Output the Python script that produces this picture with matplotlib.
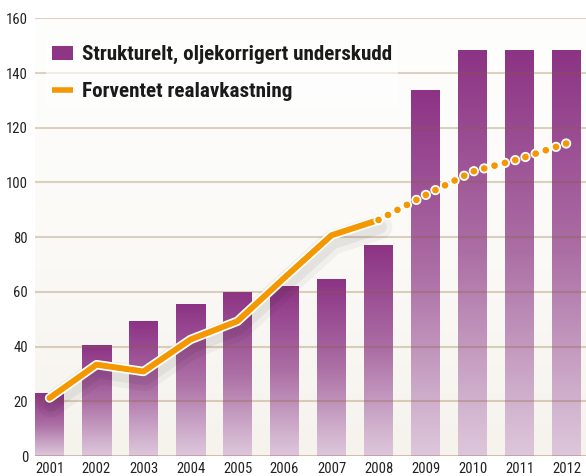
import numpy as np
import matplotlib
matplotlib.use('Agg')
import matplotlib.pyplot as plt
from matplotlib.colors import LinearSegmentedColormap
import matplotlib.patheffects as pe
from matplotlib.lines import Line2D
from matplotlib.patches import Patch

years = ['2001', '2002', '2003', '2004', '2005', '2006', '2007', '2008',
         '2009', '2010', '2011', '2012']
underskudd = [23, 40.5, 49, 55.3, 59.6, 61.8, 64.4, 77.1, 133.8, 148.3, 148.3, 148.3]
realavkastning = [21.2, 33.4, 30.9, 42.6, 49.3, 65.2, 80.7, 86.3, 95.4, 104.0, 108.6, 114.3]
n_actual = 8  # 2001-2008 solid, thereafter dotted (forecast)
yticks = [0, 20, 40, 60, 80, 100, 120, 140, 160]
legend_labels = ['Strukturelt, oljekorrigert underskudd', 'Forventet realavkastning']

FONT = ['Roboto Condensed', 'Liberation Sans Narrow', 'DejaVu Sans']
plt.rcParams['font.family'] = FONT
plt.rcParams['font.stretch'] = 'condensed'
plt.rcParams['image.composite_image'] = False

PURPLE = '#8e3585'
ORANGE = '#f39800'
DPI = 100

fig = plt.figure(figsize=(5.86, 4.76), dpi=DPI)
fig.patch.set_facecolor('white')
ax = fig.add_axes([35 / 586, 20 / 476, 551 / 586, (456 - 18.4) / 476])

x = np.arange(len(years))
width = 29 / 47
xlim = (-width / 2, len(years) - 1 + 19.5 / 47)

# background gradient
bgcmap = LinearSegmentedColormap.from_list('bg', ['#f6f3ed', '#fbfaf7', '#fefefd'])
ax.imshow(np.linspace(0, 1, 256).reshape(-1, 1), extent=[xlim[0], xlim[1], 0, 160],
          origin='lower', cmap=bgcmap, aspect='auto', zorder=0, interpolation='bilinear')

# bars with vertical gradient
barcmap = LinearSegmentedColormap.from_list(
    'bar', [(0.0, '#ddc7db'), (0.12, '#d2b4cf'), (0.5, '#ac6fa5'), (1.0, '#8d3385')])
bars = ax.bar(x, underskudd, width, color='none', edgecolor='none', zorder=2)
grad = np.linspace(0, 1, 256).reshape(-1, 1)
for b in bars:
    x0, w, h = b.get_x(), b.get_width(), b.get_height()
    ax.imshow(grad, extent=[x0, x0 + w, 0, h], origin='lower', cmap=barcmap,
              aspect='auto', zorder=2, interpolation='bilinear')

ax.set_xlim(*xlim)
ax.set_ylim(0, 160)

# gridlines drawn over bars
for t in yticks:
    if t == 0:
        ax.axhline(t, color='#a86a5a', alpha=0.45, lw=2.0, zorder=3)
    else:
        ax.axhline(t, color='#8a6030', alpha=0.28, lw=1.5, zorder=3)

shadows = [pe.SimpleLineShadow(offset=(1, -5), shadow_color='black', alpha=0.04, linewidth=18),
           pe.SimpleLineShadow(offset=(1, -5), shadow_color='black', alpha=0.05, linewidth=10)]
outline = pe.Stroke(linewidth=6.8, foreground='white')

ax.plot(x[:n_actual], realavkastning[:n_actual], color=ORANGE, lw=4.3,
        solid_capstyle='round', solid_joinstyle='round', zorder=6,
        path_effects=shadows + [outline, pe.Normal()])

# dotted forecast: choose dot spacing so a dot falls exactly on the last point
dot_lw = 4.8
fx = x[n_actual - 1:]
fy = realavkastning[n_actual - 1:]
disp = ax.transData.transform(np.column_stack([fx, fy]))
L_px = np.sum(np.hypot(np.diff(disp[:, 0]), np.diff(disp[:, 1])))
n_int = max(1, int(round(L_px / 10.7)))
step_pt = (L_px / n_int) * 0.998 * 72 / DPI
gap_units = step_pt / dot_lw - 0.01
ax.plot(fx, fy, color=ORANGE, lw=dot_lw,
        linestyle=(0, (0.01, gap_units)), dash_capstyle='round', zorder=6,
        path_effects=[pe.Stroke(linewidth=7.4, foreground='white'), pe.Normal()])

ax.set_xticks(x)
ax.set_xticklabels(years)
ax.set_yticks(yticks)
ax.tick_params(axis='both', length=0, labelsize=10.5, colors='#222222')
ax.tick_params(axis='x', pad=4)
ax.tick_params(axis='y', pad=5)
for s in ax.spines.values():
    s.set_visible(False)

handles = [Patch(facecolor=PURPLE, edgecolor='none'),
           Line2D([], [], color=ORANGE, lw=4, solid_capstyle='butt',
                  path_effects=[pe.Stroke(linewidth=6, foreground='white'), pe.Normal()])]
leg = ax.legend(handles, legend_labels, loc='upper left', bbox_to_anchor=(0.02, 0.953),
                prop={'family': FONT, 'weight': 'bold', 'size': 15.2, 'stretch': 'condensed'},
                frameon=True, framealpha=0.6, facecolor='white', edgecolor='none',
                fancybox=False, handlelength=1.0, handleheight=0.6, handletextpad=0.4,
                labelspacing=0.85, borderpad=0.3, borderaxespad=0.0)
leg.set_zorder(7)
for t in leg.get_texts():
    t.set_color('#1a1a1a')

fig.savefig('out.png', dpi=DPI)
